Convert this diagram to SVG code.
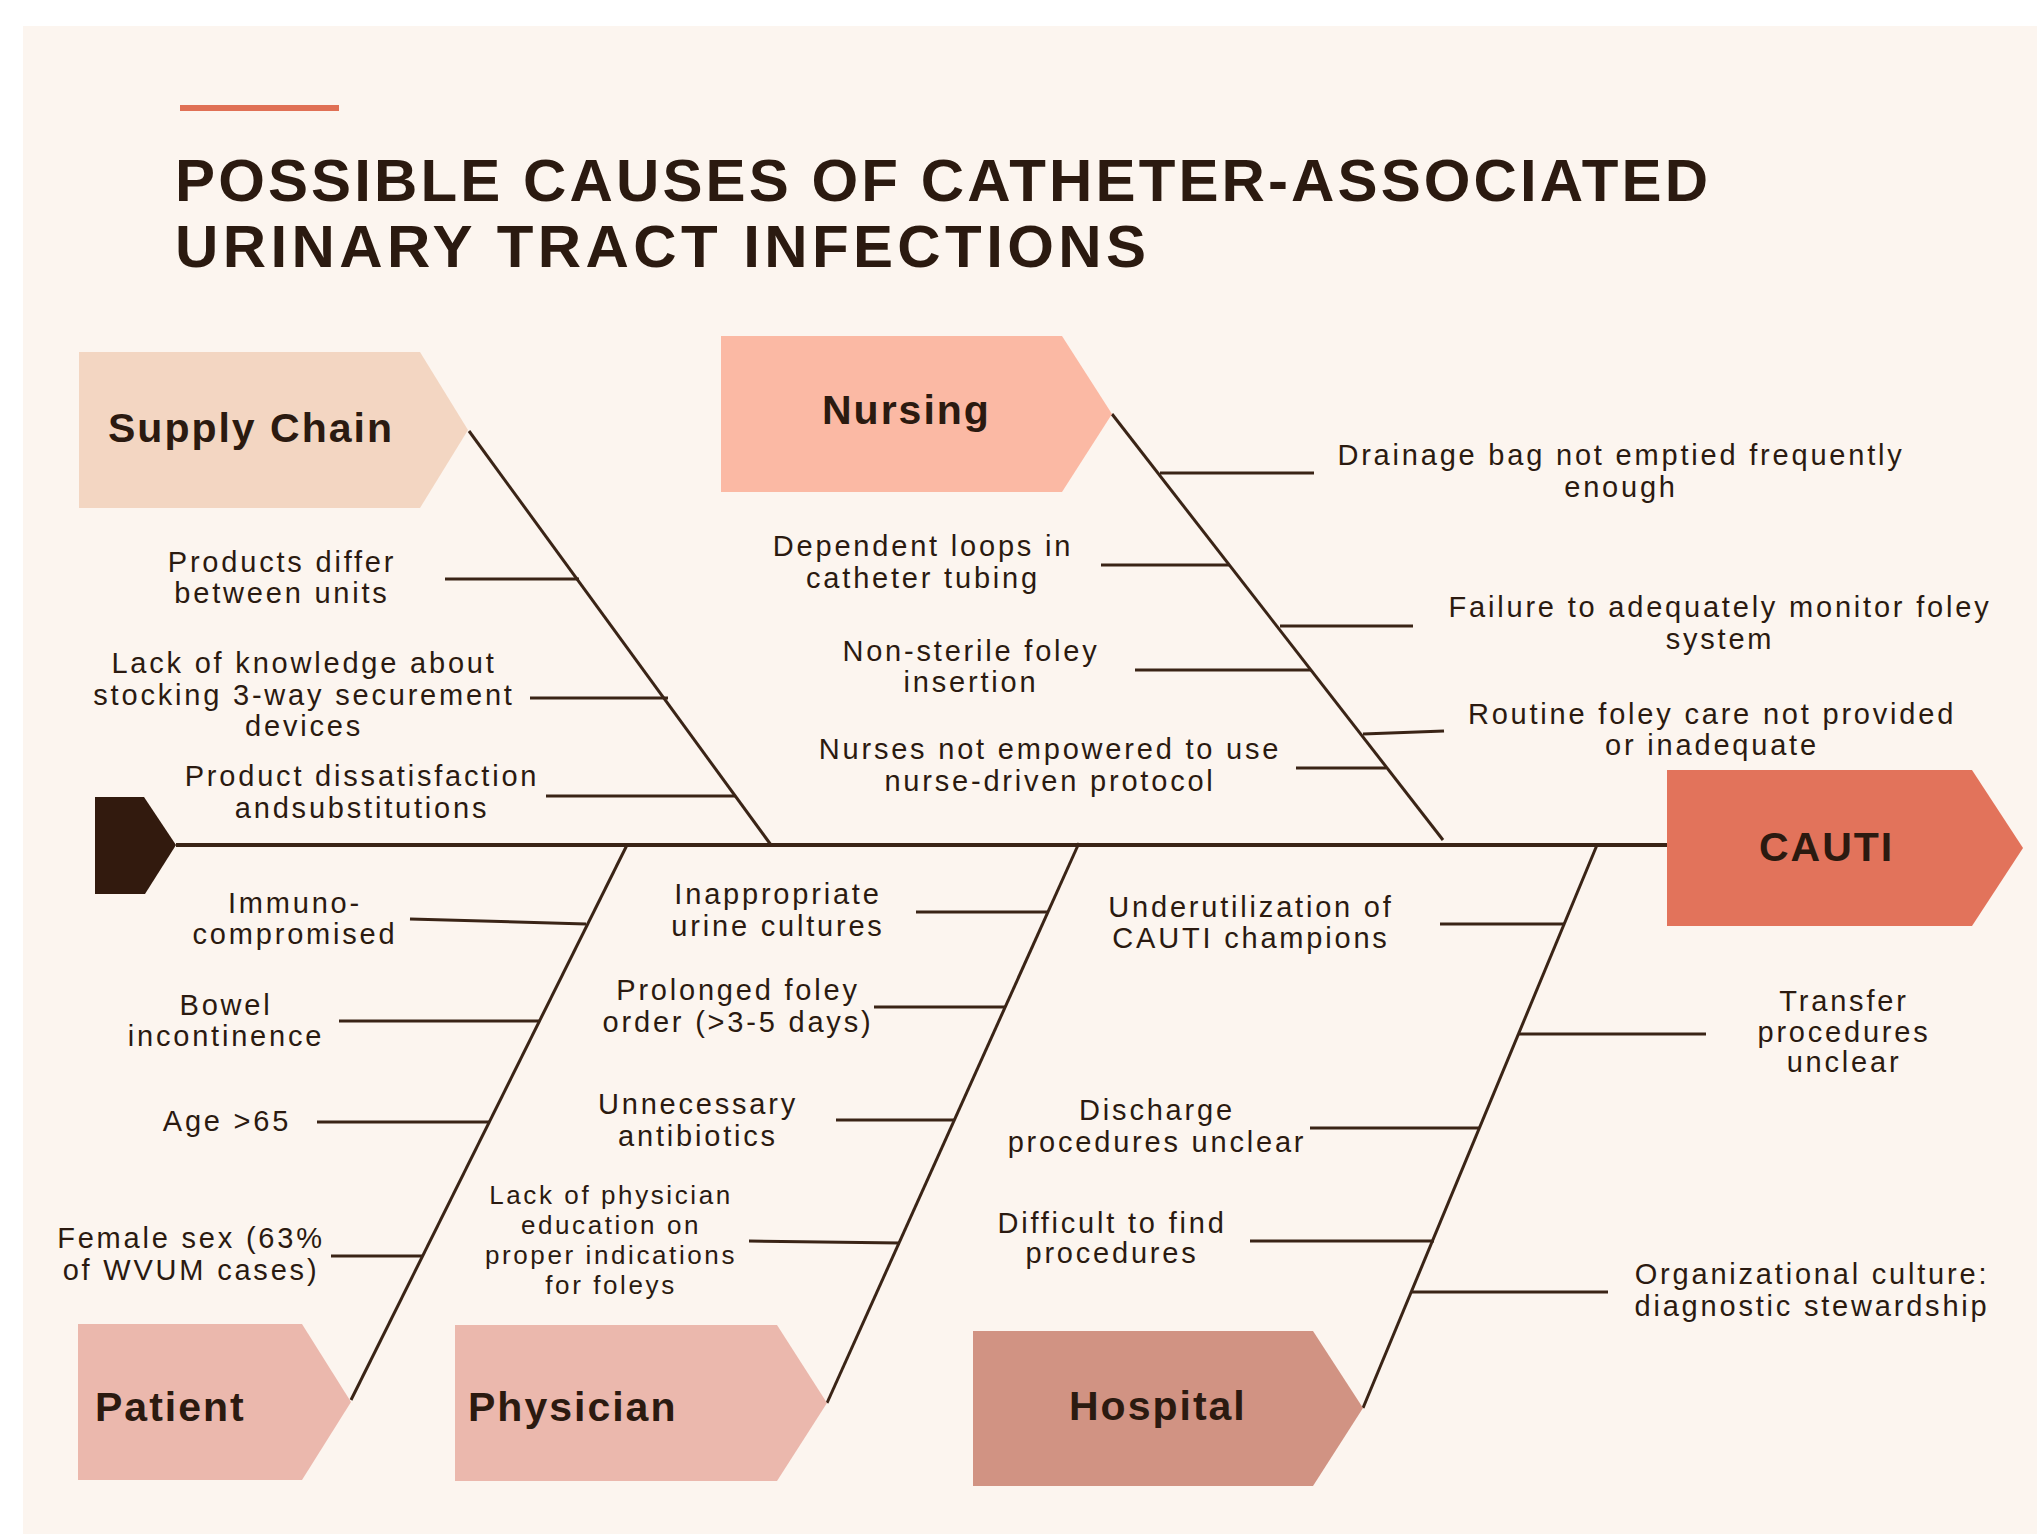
<svg xmlns="http://www.w3.org/2000/svg" width="2037" height="1534" viewBox="0 0 2037 1534">
<style>
.bg{fill:#FCF5EF}
.ln{stroke:#3A2416;stroke-width:3;fill:none;stroke-linecap:butt}
.spine{stroke:#3A2416;stroke-width:4;fill:none}
.t{font-family:"Liberation Sans",Arial,sans-serif;font-size:29px;letter-spacing:2.8px;fill:#2B1A10;text-anchor:middle}
.ts{font-family:"Liberation Sans",Arial,sans-serif;font-size:26px;letter-spacing:2.6px;fill:#2B1A10;text-anchor:middle}
.cat{font-family:"Liberation Sans",Arial,sans-serif;font-size:41px;font-weight:bold;letter-spacing:2px;fill:#2B1A10}
.title{font-family:"Liberation Sans",Arial,sans-serif;font-size:60px;font-weight:bold;fill:#2B1A10}
</style>
<rect x="0" y="0" width="2037" height="1534" fill="#FFFFFF"/>
<rect class="bg" x="23" y="26" width="2014" height="1508"/>
<rect x="180" y="105" width="159" height="6" fill="#E07055"/>
<text class="title" x="175" y="201" textLength="1533" lengthAdjust="spacing">POSSIBLE CAUSES OF CATHETER-ASSOCIATED</text>
<text class="title" x="175" y="267" textLength="971" lengthAdjust="spacing">URINARY TRACT INFECTIONS</text>

<g id="connectors">
<line class="spine" x1="176" y1="845" x2="1667" y2="845"/>
<line class="ln" x1="469" y1="431" x2="771" y2="845"/>
<line class="ln" x1="445" y1="579" x2="579" y2="579"/>
<line class="ln" x1="530" y1="698" x2="668" y2="698"/>
<line class="ln" x1="546" y1="796" x2="735" y2="796"/>
<line class="ln" x1="1112" y1="414" x2="1443" y2="840"/>
<line class="ln" x1="1160" y1="473" x2="1314" y2="473"/>
<line class="ln" x1="1280" y1="626" x2="1413" y2="626"/>
<line class="ln" x1="1363" y1="734" x2="1444" y2="731"/>
<line class="ln" x1="1101" y1="565" x2="1229" y2="565"/>
<line class="ln" x1="1135" y1="670" x2="1311" y2="670"/>
<line class="ln" x1="1296" y1="768" x2="1386" y2="768"/>
<line class="ln" x1="351" y1="1400" x2="627" y2="845"/>
<line class="ln" x1="410" y1="919" x2="586" y2="924"/>
<line class="ln" x1="339" y1="1021" x2="539" y2="1021"/>
<line class="ln" x1="317" y1="1122" x2="489" y2="1122"/>
<line class="ln" x1="331" y1="1256" x2="423" y2="1256"/>
<line class="ln" x1="827" y1="1403" x2="1079" y2="843"/>
<line class="ln" x1="916" y1="912" x2="1048" y2="912"/>
<line class="ln" x1="874" y1="1007" x2="1006" y2="1007"/>
<line class="ln" x1="836" y1="1120" x2="955" y2="1120"/>
<line class="ln" x1="749" y1="1241" x2="900" y2="1243"/>
<line class="ln" x1="1363" y1="1408" x2="1597" y2="845"/>
<line class="ln" x1="1440" y1="924" x2="1564" y2="924"/>
<line class="ln" x1="1519" y1="1034" x2="1706" y2="1034"/>
<line class="ln" x1="1310" y1="1128" x2="1480" y2="1128"/>
<line class="ln" x1="1250" y1="1241" x2="1434" y2="1241"/>
<line class="ln" x1="1411" y1="1292" x2="1608" y2="1292"/>
</g>

<g id="tail"><polygon points="95,797 144,797 176,845 145,894 95,894" fill="#321A0E"/></g>

<g id="supply-chain">
<polygon points="79,352 420,352 468,430 420,508 79,508" fill="#F3D6C2"/>
<text class="cat" x="108" y="442">Supply Chain</text>
</g>
<g id="nursing">
<polygon points="721,336 1062,336 1112,414 1062,492 721,492" fill="#FBB9A4"/>
<text class="cat" x="822" y="424">Nursing</text>
</g>
<g id="cauti">
<polygon points="1667,770 1972,770 2023,848 1972,926 1667,926" fill="#E2735B"/>
<text class="cat" x="1759" y="861">CAUTI</text>
</g>
<g id="patient">
<polygon points="78,1324 302,1324 351,1402 302,1480 78,1480" fill="#EBB8AD"/>
<text class="cat" x="95" y="1421">Patient</text>
</g>
<g id="physician">
<polygon points="455,1325 777,1325 827,1403 777,1481 455,1481" fill="#EBB8AD"/>
<text class="cat" x="468" y="1421">Physician</text>
</g>
<g id="hospital">
<polygon points="973,1331 1313,1331 1363,1408 1313,1486 973,1486" fill="#D19383"/>
<text class="cat" x="1069" y="1420">Hospital</text>
</g>

<g id="supply-causes">
<text class="t" x="282" y="572">Products differ</text>
<text class="t" x="282" y="603">between units</text>
<text class="t" x="304" y="673">Lack of knowledge about</text>
<text class="t" x="304" y="705">stocking 3-way securement</text>
<text class="t" x="304" y="736">devices</text>
<text class="t" x="362" y="786">Product dissatisfaction</text>
<text class="t" x="362" y="818">andsubstitutions</text>
</g>
<g id="nursing-causes">
<text class="t" x="1621" y="465">Drainage bag not emptied frequently</text>
<text class="t" x="1621" y="497">enough</text>
<text class="t" x="1720" y="617">Failure to adequately monitor foley</text>
<text class="t" x="1720" y="649">system</text>
<text class="t" x="1712" y="724">Routine foley care not provided</text>
<text class="t" x="1712" y="755">or inadequate</text>
<text class="t" x="923" y="556">Dependent loops in</text>
<text class="t" x="923" y="588">catheter tubing</text>
<text class="t" x="971" y="661">Non-sterile foley</text>
<text class="t" x="971" y="692">insertion</text>
<text class="t" x="1050" y="759">Nurses not empowered to use</text>
<text class="t" x="1050" y="791">nurse-driven protocol</text>
</g>
<g id="patient-causes">
<text class="t" x="295" y="913">Immuno-</text>
<text class="t" x="295" y="944">compromised</text>
<text class="t" x="226" y="1015">Bowel</text>
<text class="t" x="226" y="1046">incontinence</text>
<text class="t" x="227" y="1131">Age &gt;65</text>
<text class="t" x="191" y="1248">Female sex (63%</text>
<text class="t" x="191" y="1280">of WVUM cases)</text>
</g>
<g id="physician-causes">
<text class="t" x="778" y="904">Inappropriate</text>
<text class="t" x="778" y="936">urine cultures</text>
<text class="t" x="738" y="1000">Prolonged foley</text>
<text class="t" x="738" y="1032">order (&gt;3-5 days)</text>
<text class="t" x="698" y="1114">Unnecessary</text>
<text class="t" x="698" y="1146">antibiotics</text>
<text class="ts" x="611" y="1204">Lack of physician</text>
<text class="ts" x="611" y="1234">education on</text>
<text class="ts" x="611" y="1264">proper indications</text>
<text class="ts" x="611" y="1294">for foleys</text>
</g>
<g id="hospital-causes">
<text class="t" x="1251" y="917">Underutilization of</text>
<text class="t" x="1251" y="948">CAUTI champions</text>
<text class="t" x="1844" y="1011">Transfer</text>
<text class="t" x="1844" y="1042">procedures</text>
<text class="t" x="1844" y="1072">unclear</text>
<text class="t" x="1157" y="1120">Discharge</text>
<text class="t" x="1157" y="1152">procedures unclear</text>
<text class="t" x="1112" y="1233">Difficult to find</text>
<text class="t" x="1112" y="1263">procedures</text>
<text class="t" x="1812" y="1284">Organizational culture:</text>
<text class="t" x="1812" y="1316">diagnostic stewardship</text>
</g>
</svg>
